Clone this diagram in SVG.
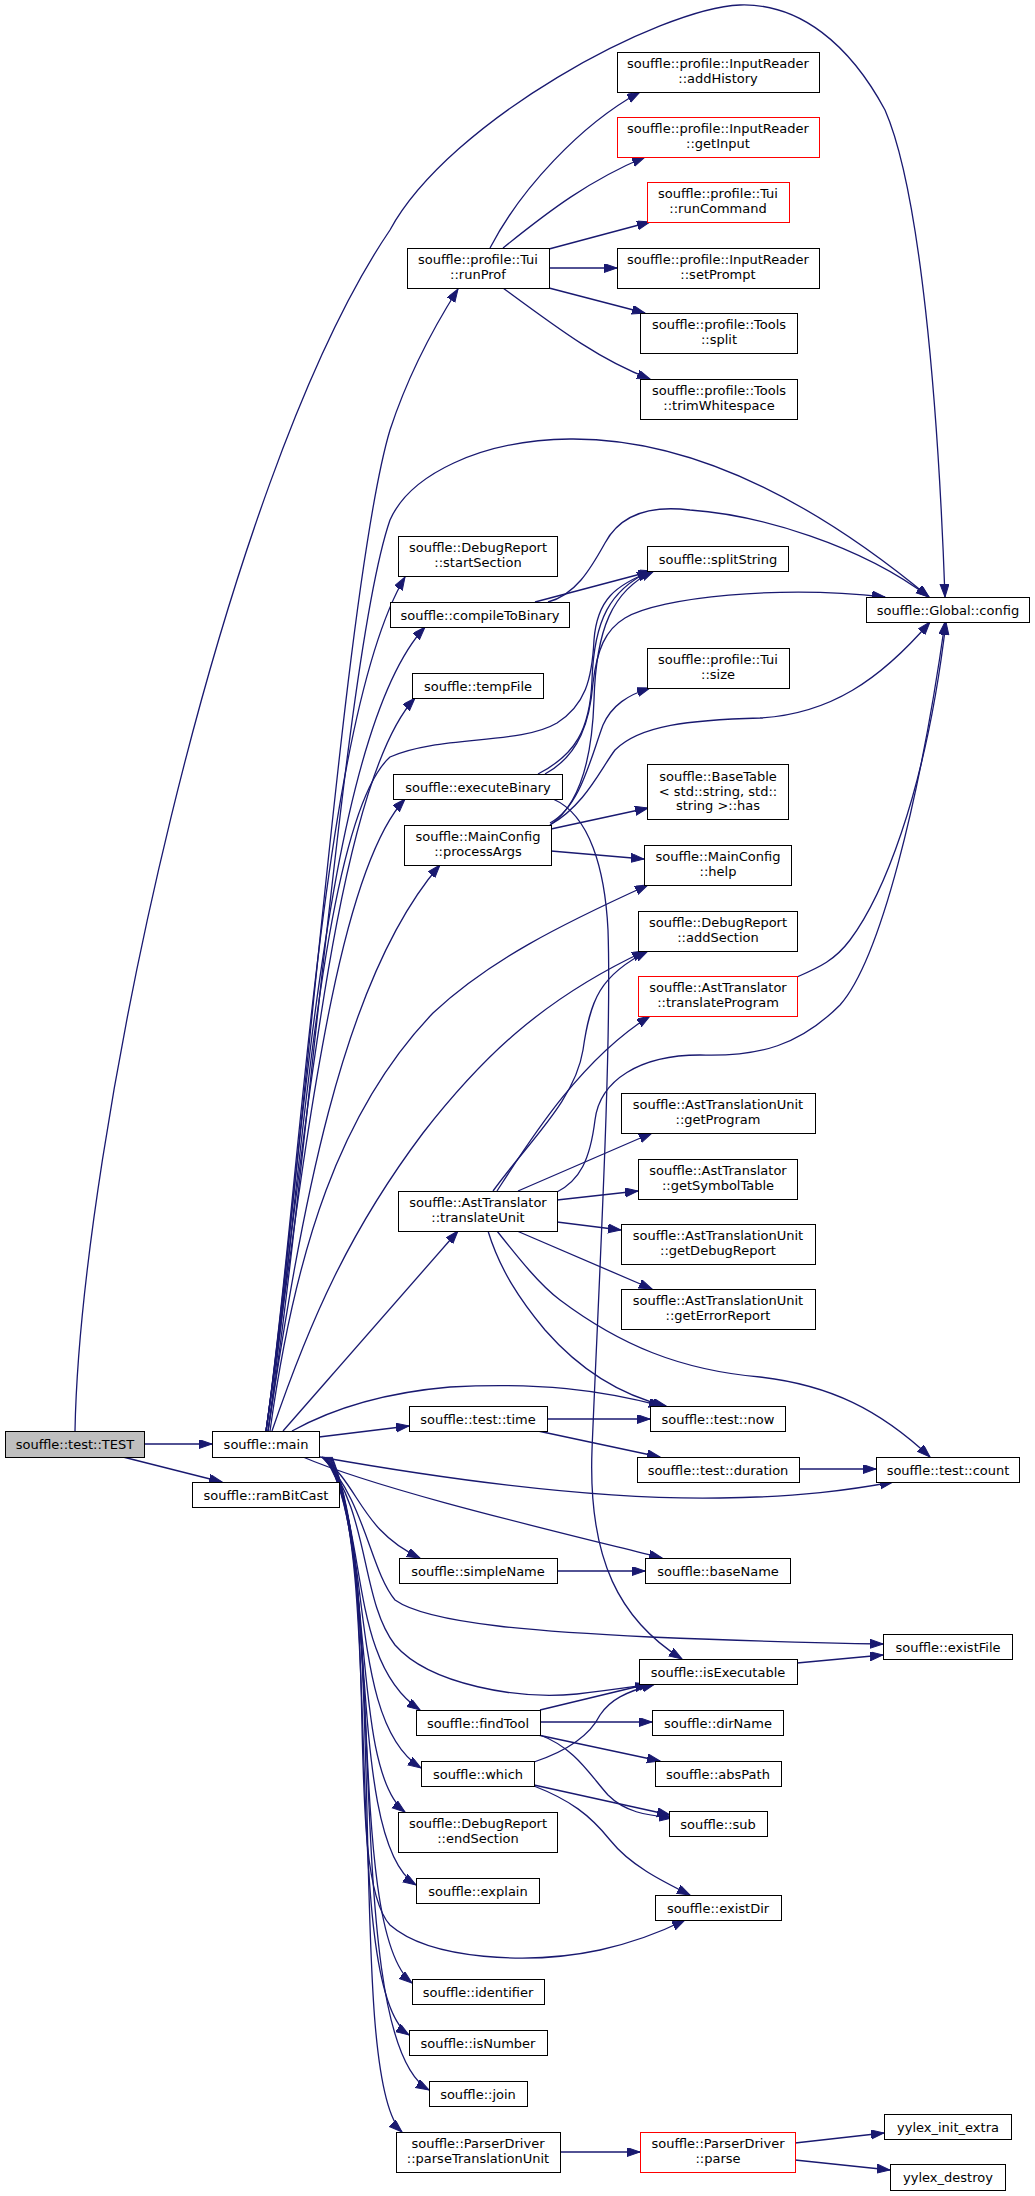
<svg xmlns="http://www.w3.org/2000/svg" width="1035" height="2196" viewBox="0 0 1035 2196">
<style>
.n rect{fill:#fff;stroke:#000;stroke-width:1}
.n.r rect{stroke:#ff0000}
.n.g rect{fill:#bfbfbf}
.n text{font-family:"DejaVu Sans","Liberation Sans",sans-serif;font-size:13px;fill:#000;text-anchor:middle}
.e path{fill:none;stroke:#191970;stroke-width:1.3}
</style>
<defs>
<marker id="a" markerUnits="userSpaceOnUse" markerWidth="14" markerHeight="10" refX="13" refY="4.5" orient="auto">
<path d="M0,0 L13,4.5 L0,9 z" fill="#191970" stroke="#191970" stroke-width="1"/>
</marker>
</defs>
<rect width="1035" height="2196" fill="#fff"/>
<g class="e" marker-end="url(#a)">
<path d="M144,1444 L212,1444"/>
<path d="M123,1457 L222,1482"/>
<path d="M75,1431 C80,1150 220,480 390,230 C450,120 660,8 740,5 C800,3 850,45 885,110 C920,190 938,400 945,597"/>
<path d="M266,1431 C300,1200 345,580 390,430 C408,375 432,330 458,289"/>
<path d="M268,1431 C305,1200 345,650 390,520 C410,475 480,440 570,439 C680,438 800,490 929,597"/>
<path d="M266,1431 C300,1200 320,720 405,577"/>
<path d="M268,1431 C300,1200 320,820 390,757 C440,735 520,745 557,723 C585,705 592,680 594,640 C597,600 615,585 652,571"/>
<path d="M266,1431 C300,1200 320,740 425,627"/>
<path d="M266,1431 C300,1200 330,790 415,698"/>
<path d="M266,1431 C300,1200 330,880 405,799"/>
<path d="M268,1431 C300,1220 340,980 440,865"/>
<path d="M270,1431 C295,1250 340,1110 433,1013 C490,960 560,925 648,885"/>
<path d="M272,1431 C310,1320 350,1230 423,1133 C480,1060 540,1000 645,951"/>
<path d="M283,1431 L458,1231"/>
<path d="M292,1431 C330,1410 380,1393 450,1387 C540,1382 600,1390 662,1406"/>
<path d="M319,1437 L409,1426"/>
<path d="M320,1457 C450,1480 600,1500 720,1498 C800,1497 850,1490 893,1482"/>
<path d="M303,1457 C380,1490 550,1530 662,1558"/>
<path d="M322,1457 C360,1485 360,1530 420,1558"/>
<path d="M322,1457 C365,1500 370,1570 395,1600 C430,1625 550,1632 650,1637 C750,1641 820,1643 883,1644"/>
<path d="M323,1457 C370,1510 360,1600 395,1645 C430,1685 520,1700 577,1694 C610,1690 630,1687 652,1684"/>
<path d="M324,1457 C370,1520 345,1660 420,1710"/>
<path d="M325,1457 C375,1530 345,1720 421,1768"/>
<path d="M326,1457 C375,1540 350,1770 405,1812"/>
<path d="M327,1457 C380,1550 345,1840 416,1885"/>
<path d="M328,1457 C385,1560 340,1870 390,1925 C430,1960 530,1965 600,1950 C640,1941 665,1930 685,1920"/>
<path d="M329,1457 C385,1560 345,1930 412,1983"/>
<path d="M330,1457 C385,1570 340,1990 409,2035"/>
<path d="M331,1457 C390,1580 340,2040 429,2090"/>
<path d="M332,1457 C390,1600 345,2080 402,2132"/>
<path d="M490,248 C520,190 580,125 640,92"/>
<path d="M503,248 C550,210 590,180 645,157"/>
<path d="M549,249 L650,222"/>
<path d="M549,268 L617,268"/>
<path d="M549,288 L645,313"/>
<path d="M503,288 C560,330 600,360 650,379"/>
<path d="M535,602 L652,571"/>
<path d="M548,602 C575,595 590,570 605,543 C620,515 650,505 690,510 C760,515 860,545 929,597"/>
<path d="M538,774 C575,755 590,730 592,680 C594,620 610,590 650,571"/>
<path d="M545,774 C580,755 590,720 593,683 C597,650 605,630 625,618 C660,597 780,585 885,597"/>
<path d="M553,799 C590,815 605,870 608,930 C612,1050 598,1300 592,1450 C588,1560 620,1620 682,1659"/>
<path d="M550,825 C580,805 592,760 594,700 C596,630 612,590 654,571"/>
<path d="M550,825 C585,805 600,770 615,750 C640,725 690,720 760,718 C830,714 880,680 930,622"/>
<path d="M550,823 C580,807 590,760 603,725 C612,705 628,695 650,688"/>
<path d="M551,829 L648,808"/>
<path d="M551,851 L644,859"/>
<path d="M493,1191 C530,1140 575,1100 583,1050 C590,1000 600,975 648,951"/>
<path d="M497,1191 C530,1140 580,1060 650,1016"/>
<path d="M557,1192 C580,1180 590,1160 595,1120 C600,1080 640,1055 700,1055 C760,1057 800,1045 840,1005 C880,960 920,800 945,622"/>
<path d="M797,977 C820,967 835,960 850,940 C880,900 925,800 946,622"/>
<path d="M518,1191 L652,1133"/>
<path d="M557,1200 L638,1191"/>
<path d="M557,1222 L621,1230"/>
<path d="M517,1231 L652,1289"/>
<path d="M488,1231 C500,1270 520,1300 545,1330 C580,1370 620,1395 666,1406"/>
<path d="M497,1231 C520,1260 540,1285 560,1300 C620,1345 680,1370 760,1377 C830,1385 880,1410 930,1457"/>
<path d="M547,1419 L650,1419"/>
<path d="M538,1431 L660,1457"/>
<path d="M799,1469 L876,1469"/>
<path d="M557,1571 L645,1571"/>
<path d="M797,1663 L883,1655"/>
<path d="M540,1710 L648,1684"/>
<path d="M540,1722 L652,1722"/>
<path d="M538,1735 L660,1761"/>
<path d="M540,1735 C575,1748 590,1775 608,1795 C625,1812 645,1815 672,1818"/>
<path d="M534,1762 C570,1750 590,1735 600,1715 C610,1700 625,1692 655,1684"/>
<path d="M534,1785 L670,1815"/>
<path d="M534,1786 C570,1800 590,1815 610,1840 C630,1865 660,1880 690,1895"/>
<path d="M560,2152 L640,2152"/>
<path d="M795,2143 L884,2133"/>
<path d="M795,2160 L890,2170"/>
</g>
<g id="TEST" class="n g"><rect x="5.5" y="1431.5" width="139" height="26"/><text x="75" y="1449">souffle::test::TEST</text></g>
<g id="main" class="n"><rect x="212.5" y="1431.5" width="107" height="26"/><text x="266" y="1449">souffle::main</text></g>
<g id="ramBitCast" class="n"><rect x="192.5" y="1482.5" width="147" height="25"/><text x="266" y="1499.5">souffle::ramBitCast</text></g>
<g id="runProf" class="n"><rect x="407.5" y="248.5" width="142" height="40"/><text x="478" y="264">souffle::profile::Tui</text><text x="478" y="278.5">::runProf</text></g>
<g id="addHistory" class="n"><rect x="617.5" y="52.5" width="202" height="40"/><text x="718" y="68">souffle::profile::InputReader</text><text x="718" y="82.5">::addHistory</text></g>
<g id="getInput" class="n r"><rect x="617.5" y="117.5" width="202" height="40"/><text x="718" y="133">souffle::profile::InputReader</text><text x="718" y="147.5">::getInput</text></g>
<g id="runCommand" class="n r"><rect x="647.5" y="182.5" width="142" height="40"/><text x="718" y="198">souffle::profile::Tui</text><text x="718" y="212.5">::runCommand</text></g>
<g id="setPrompt" class="n"><rect x="617.5" y="248.5" width="202" height="40"/><text x="718" y="264">souffle::profile::InputReader</text><text x="718" y="278.5">::setPrompt</text></g>
<g id="split" class="n"><rect x="640.5" y="313.5" width="157" height="40"/><text x="719" y="329">souffle::profile::Tools</text><text x="719" y="343.5">::split</text></g>
<g id="trimWhitespace" class="n"><rect x="640.5" y="379.5" width="157" height="40"/><text x="719" y="395">souffle::profile::Tools</text><text x="719" y="409.5">::trimWhitespace</text></g>
<g id="config" class="n"><rect x="866.5" y="597.5" width="163" height="25"/><text x="948" y="614.5">souffle::Global::config</text></g>
<g id="startSection" class="n"><rect x="398.5" y="536.5" width="159" height="40"/><text x="478" y="552">souffle::DebugReport</text><text x="478" y="566.5">::startSection</text></g>
<g id="compileToBinary" class="n"><rect x="390.5" y="602.5" width="179" height="25"/><text x="480" y="619.5">souffle::compileToBinary</text></g>
<g id="splitString" class="n"><rect x="647.5" y="546.5" width="141" height="25"/><text x="718" y="563.5">souffle::splitString</text></g>
<g id="tempFile" class="n"><rect x="412.5" y="673.5" width="131" height="25"/><text x="478" y="690.5">souffle::tempFile</text></g>
<g id="size" class="n"><rect x="647.5" y="648.5" width="142" height="40"/><text x="718" y="664">souffle::profile::Tui</text><text x="718" y="678.5">::size</text></g>
<g id="executeBinary" class="n"><rect x="393.5" y="774.5" width="169" height="25"/><text x="478" y="791.5">souffle::executeBinary</text></g>
<g id="has" class="n"><rect x="647.5" y="764.5" width="141" height="55"/><text x="718" y="781">souffle::BaseTable</text><text x="718" y="795.5">&lt; std::string, std::</text><text x="718" y="810">string &gt;::has</text></g>
<g id="processArgs" class="n"><rect x="404.5" y="825.5" width="147" height="40"/><text x="478" y="841">souffle::MainConfig</text><text x="478" y="855.5">::processArgs</text></g>
<g id="help" class="n"><rect x="644.5" y="845.5" width="147" height="40"/><text x="718" y="861">souffle::MainConfig</text><text x="718" y="875.5">::help</text></g>
<g id="addSection" class="n"><rect x="638.5" y="911.5" width="159" height="40"/><text x="718" y="927">souffle::DebugReport</text><text x="718" y="941.5">::addSection</text></g>
<g id="translateProgram" class="n r"><rect x="638.5" y="976.5" width="159" height="40"/><text x="718" y="992">souffle::AstTranslator</text><text x="718" y="1006.5">::translateProgram</text></g>
<g id="getProgram" class="n"><rect x="621.5" y="1093.5" width="194" height="40"/><text x="718" y="1109">souffle::AstTranslationUnit</text><text x="718" y="1123.5">::getProgram</text></g>
<g id="getSymbolTable" class="n"><rect x="638.5" y="1159.5" width="159" height="40"/><text x="718" y="1175">souffle::AstTranslator</text><text x="718" y="1189.5">::getSymbolTable</text></g>
<g id="translateUnit" class="n"><rect x="398.5" y="1191.5" width="159" height="40"/><text x="478" y="1207">souffle::AstTranslator</text><text x="478" y="1221.5">::translateUnit</text></g>
<g id="getDebugReport" class="n"><rect x="621.5" y="1224.5" width="194" height="40"/><text x="718" y="1240">souffle::AstTranslationUnit</text><text x="718" y="1254.5">::getDebugReport</text></g>
<g id="getErrorReport" class="n"><rect x="621.5" y="1289.5" width="194" height="40"/><text x="718" y="1305">souffle::AstTranslationUnit</text><text x="718" y="1319.5">::getErrorReport</text></g>
<g id="time" class="n"><rect x="409.5" y="1406.5" width="138" height="25"/><text x="478" y="1423.5">souffle::test::time</text></g>
<g id="now" class="n"><rect x="650.5" y="1406.5" width="135" height="25"/><text x="718" y="1423.5">souffle::test::now</text></g>
<g id="duration" class="n"><rect x="637.5" y="1457.5" width="162" height="25"/><text x="718" y="1474.5">souffle::test::duration</text></g>
<g id="count" class="n"><rect x="876.5" y="1457.5" width="143" height="25"/><text x="948" y="1474.5">souffle::test::count</text></g>
<g id="simpleName" class="n"><rect x="399.5" y="1558.5" width="158" height="25"/><text x="478" y="1575.5">souffle::simpleName</text></g>
<g id="baseName" class="n"><rect x="645.5" y="1558.5" width="145" height="25"/><text x="718" y="1575.5">souffle::baseName</text></g>
<g id="existFile" class="n"><rect x="883.5" y="1634.5" width="129" height="25"/><text x="948" y="1651.5">souffle::existFile</text></g>
<g id="isExecutable" class="n"><rect x="639.5" y="1659.5" width="158" height="25"/><text x="718" y="1676.5">souffle::isExecutable</text></g>
<g id="findTool" class="n"><rect x="416.5" y="1710.5" width="124" height="25"/><text x="478" y="1727.5">souffle::findTool</text></g>
<g id="dirName" class="n"><rect x="652.5" y="1710.5" width="131" height="25"/><text x="718" y="1727.5">souffle::dirName</text></g>
<g id="which" class="n"><rect x="421.5" y="1761.5" width="113" height="25"/><text x="478" y="1778.5">souffle::which</text></g>
<g id="absPath" class="n"><rect x="655.5" y="1761.5" width="126" height="25"/><text x="718" y="1778.5">souffle::absPath</text></g>
<g id="sub" class="n"><rect x="669.5" y="1811.5" width="98" height="25"/><text x="718" y="1828.5">souffle::sub</text></g>
<g id="endSection" class="n"><rect x="398.5" y="1812.5" width="159" height="40"/><text x="478" y="1828">souffle::DebugReport</text><text x="478" y="1842.5">::endSection</text></g>
<g id="explain" class="n"><rect x="416.5" y="1878.5" width="123" height="25"/><text x="478" y="1895.5">souffle::explain</text></g>
<g id="existDir" class="n"><rect x="655.5" y="1895.5" width="126" height="25"/><text x="718" y="1912.5">souffle::existDir</text></g>
<g id="identifier" class="n"><rect x="412.5" y="1979.5" width="132" height="25"/><text x="478" y="1996.5">souffle::identifier</text></g>
<g id="isNumber" class="n"><rect x="409.5" y="2030.5" width="138" height="25"/><text x="478" y="2047.5">souffle::isNumber</text></g>
<g id="join" class="n"><rect x="429.5" y="2081.5" width="98" height="25"/><text x="478" y="2098.5">souffle::join</text></g>
<g id="parseTranslationUnit" class="n"><rect x="396.5" y="2132.5" width="164" height="40"/><text x="478" y="2148">souffle::ParserDriver</text><text x="478" y="2162.5">::parseTranslationUnit</text></g>
<g id="parse" class="n r"><rect x="640.5" y="2132.5" width="155" height="40"/><text x="718" y="2148">souffle::ParserDriver</text><text x="718" y="2162.5">::parse</text></g>
<g id="yylex_init_extra" class="n"><rect x="884.5" y="2114.5" width="127" height="25"/><text x="948" y="2131.5">yylex_init_extra</text></g>
<g id="yylex_destroy" class="n"><rect x="890.5" y="2164.5" width="115" height="26"/><text x="948" y="2182">yylex_destroy</text></g>
</svg>
